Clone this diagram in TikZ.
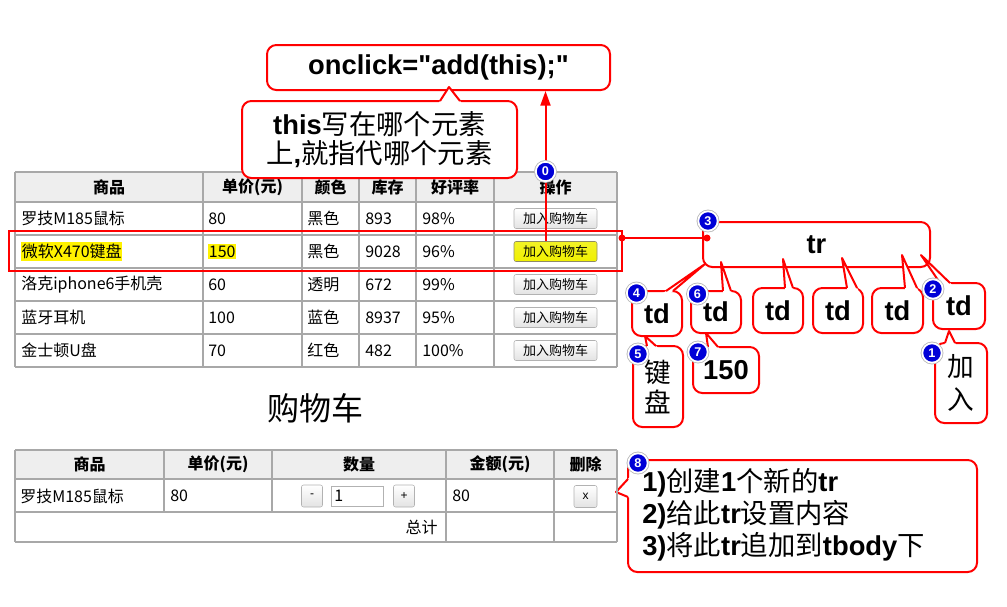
\documentclass[tikz,border=0pt]{standalone}
\usepackage{fontspec}
\setmainfont{Liberation Sans}[Ligatures=TeXOff]
\newfontfamily\zh{Noto Sans CJK SC}
\usetikzlibrary{arrows.meta, positioning, calc}
\definecolor{gridgray}{RGB}{168,168,168}
\definecolor{headgray}{RGB}{238,238,238}
\definecolor{badgeblue}{RGB}{0,0,215}
\definecolor{btnyellow}{RGB}{240,240,0}
\newcommand\pxl[1]{#1*0.75pt}
\newcommand\cn[1]{{\zh\mdseries #1}}
\newcommand\callfont{\fontsize{20.5}{24}\selectfont\bfseries}
\newcommand\tabfont{\zh\fontsize{12}{14}\selectfont}
% pointer of a callout: base, tip, base
\newcommand\callptr[3]{%
  \fill[white] ($#2!1.2!#1$) -- #2 -- ($#2!1.2!#3$) -- cycle;
  \draw[calline] #1 -- #2 -- #3;}
\tikzset{
  sz/.style 2 args={minimum width=\pxl{#1}, minimum height=\pxl{#2}},
  callbox/.style={draw=red, fill=white, line width=1.5pt, rounded corners=7pt,
    inner sep=0pt, font=\callfont},
  calline/.style={draw=red, line width=1.5pt, line join=round},
  badge/.style={circle, fill=badgeblue, draw=white, line width=1.3pt,
    minimum size=14.5pt, inner sep=0pt, text=white,
    font=\fontsize{9.5}{9.5}\selectfont\bfseries,
    preaction={draw=gray!55, line width=2.6pt}},
  grid/.style={draw=gridgray, line width=1.5pt},
  head/.style={font=\tabfont\bfseries, inner sep=0pt},
  cell/.style={font=\tabfont, anchor=west, inner sep=0pt},
  plainc/.style={},
  hl/.style={fill=yellow, inner xsep=0.5pt, inner ysep=1.5pt},
  btn/.style={draw=gray!60, rounded corners=1.5pt, top color=white,
    bottom color=gray!22, sz={83}{20},
    inner sep=0pt, font=\zh\fontsize{9.75}{10}\selectfont},
  btnY/.style={btn, top color=btnyellow!85, bottom color=btnyellow,
    draw=gray!60!yellow!70!black},
  sbtn/.style={btn, sz={21}{22}, font=\fontsize{9}{10}\selectfont},
  redln/.style={red, line width=1.6pt},
  redarr/.style={red, line width=1.5pt, -{Triangle[width=7.5pt,length=11pt]}},
}
\begin{document}
\begin{tikzpicture}[x=0.75pt, y=-0.75pt]
  \useasboundingbox (0,0) rectangle (1007,607);

  % product table
  \fill[headgray] (15,172) rectangle (617,202);
  \foreach \y in {172,202,235,268,301,334,367} \draw[grid] (15,\y) -- (617,\y);
  \foreach \x in {15,203,302,359,416,494,617} \draw[grid] (\x,172) -- (\x,367);
  \foreach \x/\t [count=\i] in {109/商品, 252.5/单价(元), 330.5/颜色,
      387.5/库存, 455/好评率, 555.5/操作}
    \node[head] (h\i) at (\x,187) {\t};
  \foreach \y/\a/\b/\c/\d/\e/\s/\bs [count=\i] in {
      218.5/罗技M185鼠标/80/黑色/893/98\%/plainc/btn,
      251.5/微软X470键盘/150/黑色/9028/96\%/hl/btnY,
      284.5/洛克iphone6手机壳/60/透明/672/99\%/plainc/btn,
      317.5/蓝牙耳机/100/蓝色/8937/95\%/plainc/btn,
      350.5/金士顿U盘/70/红色/482/100\%/plainc/btn} {
    \node[cell,\s] (name\i) at (21,\y) {\a};
    \node[cell,\s] (price\i) at (208,\y) {\b};
    \node[cell] (color\i) at (307,\y) {\c};
    \node[cell] (stock\i) at (365,\y) {\d};
    \node[cell] (rate\i) at (422,\y) {\e};
    \node[\bs] (add\i) at (555.5,\y) {加入购物车};
  }

  % selected row and link to tr
  \node[draw=red, line width=2.2pt, sz={613}{40}, inner sep=0pt] (sel) at (315.5,251) {};
  \coordinate (selR) at (622,238);
  \coordinate (trL) at (707,238);

  % top callouts
  \node[callbox, sz={343}{45}] (onclick) at (438.5,67.5) {onclick="add(this);"};
  \node[callbox, sz={275}{77}, align=center,
        font=\fontsize{20.5}{21.75}\selectfont\bfseries] (thisNote) at (379.5,139.5)
       {this\cn{写在哪个元素}\\\cn{上},\cn{就指代哪个元素}};
  \callptr{(440,101)}{(449,87)}{(460,101)}

  \coordinate (a0) at (545.5,241);
  \draw[redarr] (a0) -- (a0 |- onclick.south);

  % tree of the row
  \node[callbox, sz={227}{45}] (tr) at (816.5,244.5) {tr};
  \draw[redln] (selR) -- (trL);
  \fill[red] (selR) circle (3.5) (trL) circle (3.5);

  \node[callbox, sz={50}{45}] (td1) at (657,313.5) {td};
  \callptr{(666,291)}{(705,264)}{(673,291)}
  \node[callbox, sz={50}{42}] (td2) at (716,312) {td};
  \callptr{(723,291)}{(721,262)}{(731,291)}
  \node[callbox, sz={50}{45}] (td3) at (778,310.5) {td};
  \callptr{(785,288)}{(783,259)}{(793,288)}
  \node[callbox, sz={50}{45}] (td4) at (838,310.5) {td};
  \callptr{(847,288)}{(842,258)}{(857,288)}
  \node[callbox, sz={51}{45}] (td5) at (897.5,310.5) {td};
  \callptr{(905,288)}{(902,255)}{(917,288)}
  \node[callbox, sz={52}{46}] (td6) at (959,306) {td};
  \callptr{(940,283)}{(921,255)}{(950,283)}

  \node[callbox, sz={50}{81}, align=center,
        font=\zh\fontsize{20}{22.5}\selectfont] (jp) at (658,386.5) {键\\盘};
  \callptr{(647,346)}{(645,336)}{(656,346)}
  \node[callbox, sz={66}{46}] (v150) at (726,370) {150};
  \callptr{(708,347)}{(706,333)}{(718,347)}
  \node[callbox, sz={52}{80}, align=center,
        font=\zh\fontsize{20}{24.75}\selectfont] (jr) at (961,383) {加\\入};
  \callptr{(945,343)}{(949,331)}{(955,343)}

  % steps callout
  \node[callbox, sz={349}{112}] (steps) at (802.5,516) {};
  \callptr{(628,479)}{(616,492)}{(628,497)}
  \node[font=\callfont, align=left, anchor=west, inner sep=0pt] (stepsTxt) at (642,515)
       {1)\cn{创建}1\cn{个新的}tr\\2)\cn{给此}tr\cn{设置内容}\\3)\cn{将此}tr\cn{追加到}tbody\cn{下}};

  % cart
  \node[font=\zh\fontsize{24}{26}\selectfont] (cartTitle) at (315.5,408) {购物车};
  \fill[headgray] (15,450) rectangle (617,479);
  \foreach \y in {450,479,512,542} \draw[grid] (15,\y) -- (617,\y);
  \foreach \x in {15,446,554,617} \draw[grid] (\x,450) -- (\x,542);
  \foreach \x in {164,272} \draw[grid] (\x,450) -- (\x,512);
  \foreach \x/\t [count=\i] in {89.5/商品, 218/单价(元), 359/数量, 500/金额(元), 585.5/删除}
    \node[head] (ch\i) at (\x,464.5) {\t};
  \node[cell] (cName) at (20,496) {罗技M185鼠标};
  \node[cell] (cPrice) at (170,496) {80};
  \node[sbtn] (minus) at (312,496) {-};
  \node[draw=gray!60, fill=white, sz={52}{20}, inner sep=0pt] (qty) at (357,496) {};
  \node[cell] (qtyVal) at (334,496) {1};
  \node[sbtn] (plus) at (404,496) {+};
  \node[cell] (cSum) at (452,496) {80};
  \node[sbtn, sz={23}{22}] (del) at (585.5,496.5) {x};
  \node[cell, anchor=east] (total) at (438,527) {总计};

  % badges
  \node[badge] (b0) at (545.5,171.5) {0};
  \node[badge] (b1) at (932,353) {1};
  \node[badge] (b2) at (933,289) {2};
  \node[badge] (b3) at (708,221) {3};
  \node[badge] (b4) at (636.5,293) {4};
  \node[badge] (b5) at (638,354) {5};
  \node[badge] (b6) at (697.5,294) {6};
  \node[badge] (b7) at (698,352) {7};
  \node[badge] (b8) at (638,463) {8};
\end{tikzpicture}
\end{document}
